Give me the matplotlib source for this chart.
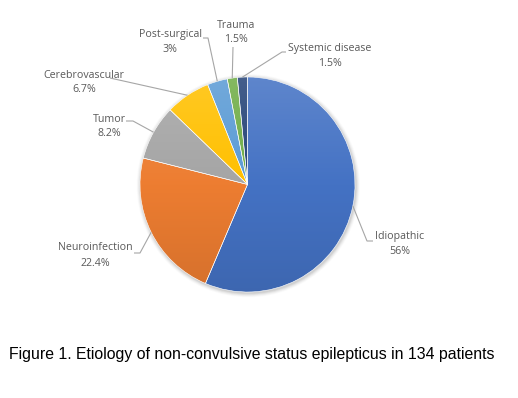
import numpy as np
import matplotlib
matplotlib.use("Agg")
import matplotlib.pyplot as plt
from matplotlib.colors import LinearSegmentedColormap, to_rgb
from matplotlib.patches import Circle

# ---- data ----
categories = ["Idiopathic", "Neuroinfection", "Tumor", "Cerebrovascular",
              "Post-surgical", "Trauma", "Systemic disease"]
values = [56, 22.4, 8.2, 6.7, 3, 1.5, 1.5]
value_labels = ["56%", "22.4%", "8.2%", "6.7%", "3%", "1.5%", "1.5%"]
caption = "Figure 1. Etiology of non-convulsive status epilepticus in 134 patients"

# ---- style ----
colors = ["#4472C4", "#ED7D31", "#A5A5A5", "#FFC000", "#5B9BD5", "#70AD47", "#264478"]
W, H = 518, 398
CX, CY, R = 247.5, 184.5, 107.5   # pixel layout of the pie (screen coords)

# label layout in screen pixels: (text centre x, name y, elbow points...)
label_layout = {
    "Idiopathic":       dict(tx=400, ty=236, elbow=[(373, 241), (367, 241)]),
    "Neuroinfection":   dict(tx=95,  ty=248, elbow=[(134, 253), (140, 253)]),
    "Tumor":            dict(tx=109, ty=119, elbow=[(126, 121), (133, 121)]),
    "Cerebrovascular":  dict(tx=84,  ty=75,  elbow=[(110, 78)]),
    "Post-surgical":    dict(tx=170, ty=35,  elbow=[(203, 38), (208, 38)]),
    "Trauma":           dict(tx=236, ty=25,  elbow=[(233, 47)]),
    "Systemic disease": dict(tx=330, ty=48,  elbow=[(286, 52), (282, 52)]),
}

def P(px, py):
    return px, H - py

fig = plt.figure(figsize=(W / 100, H / 100), dpi=100)
ax = fig.add_axes([0, 0, 1, 1])
cx, cy = P(CX, CY)

# soft shadow
for i, a in enumerate([0.05, 0.05, 0.04, 0.03, 0.02]):
    ax.add_patch(Circle((cx + 0.8, cy - 1.2), R + 0.5 + i * 0.9, color="black",
                        alpha=a, lw=0, zorder=0))

wedges, _ = ax.pie(values, colors=colors, startangle=90, counterclock=False,
                   center=(cx, cy), radius=R,
                   wedgeprops=dict(edgecolor="white", linewidth=0.4))

# vertical gradient fill (lighter top, darker bottom)
grad = np.linspace(0, 1, 256).reshape(-1, 1)
for w, c in zip(wedges, colors):
    base = np.array(to_rgb(c))
    top = base + (1 - base) * 0.14
    bot = base * 0.90
    cmap = LinearSegmentedColormap.from_list("g", [top, base, bot])
    im = ax.imshow(grad, cmap=cmap, extent=(cx - R, cx + R, cy - R, cy + R),
                   origin="upper", aspect="auto", zorder=2, interpolation="bilinear")
    im.set_clip_path(w)
    w.set_zorder(3)
    w.set_facecolor("none")

# labels + leader lines
lc = "#A6A6A6"
tc = "#595959"
for w, name, vl in zip(wedges, categories, value_labels):
    mid = np.deg2rad((w.theta1 + w.theta2) / 2)
    ex, ey = cx + R * np.cos(mid), cy + R * np.sin(mid)
    lay = label_layout[name]
    pts = [P(*p) for p in lay["elbow"]]
    xs = [p[0] for p in pts] + [ex]
    ys = [p[1] for p in pts] + [ey]
    ax.plot(xs, ys, color=lc, lw=0.8, zorder=4, solid_capstyle="butt")
    tx, ty = P(lay["tx"], lay["ty"])
    ax.text(tx, ty, name, ha="center", va="center", fontsize=7.7,
            family="Open Sans", color=tc)
    ax.text(tx, ty - 15, vl, ha="center", va="center", fontsize=7.7,
            family="Open Sans", color=tc)

x0, y0 = P(9, 355)
ax.text(x0, y0, caption, ha="left", va="center", fontsize=11.45,
        family="Liberation Sans", color="black")

ax.set_xlim(0, W)
ax.set_ylim(0, H)
ax.set_aspect("auto")
ax.axis("off")
fig.savefig("out.png", dpi=100, facecolor="white")
